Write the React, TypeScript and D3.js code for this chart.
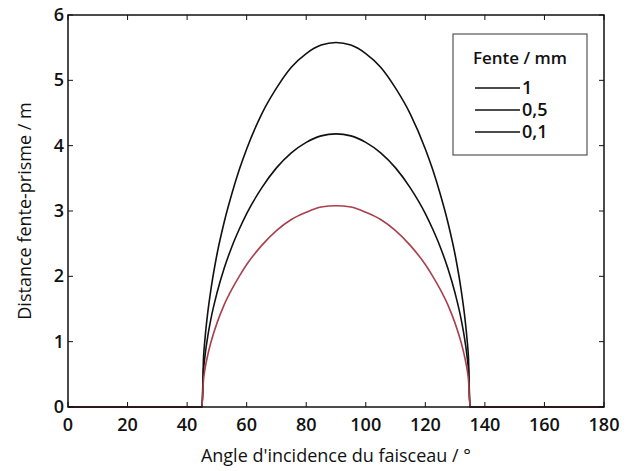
import React from "react";
import * as d3 from "d3";

const angles = [0, 45, 45.5, 46, 47, 48, 50, 52.5, 55, 57.5, 60, 65, 70, 75, 80, 85, 90, 95, 100, 105, 110, 115, 120, 122.5, 125, 127.5, 130, 132, 133, 134, 134.5, 135, 180];
const fente1 = [0, 0, 0.74, 1.04, 1.47, 1.8, 2.33, 2.84, 3.26, 3.63, 3.95, 4.48, 4.88, 5.2, 5.41, 5.54, 5.58, 5.54, 5.41, 5.2, 4.88, 4.48, 3.95, 3.63, 3.26, 2.84, 2.33, 1.8, 1.47, 1.04, 0.74, 0, 0];
const fente05 = [0, 0, 0.55, 0.78, 1.1, 1.35, 1.74, 2.13, 2.45, 2.72, 2.96, 3.35, 3.66, 3.89, 4.05, 4.15, 4.18, 4.15, 4.05, 3.89, 3.66, 3.35, 2.96, 2.72, 2.45, 2.13, 1.74, 1.35, 1.1, 0.78, 0.55, 0, 0];
const fente01 = [0, 0, 0.41, 0.58, 0.81, 0.99, 1.28, 1.57, 1.8, 2.0, 2.18, 2.47, 2.7, 2.87, 2.98, 3.06, 3.08, 3.06, 2.98, 2.87, 2.7, 2.47, 2.18, 2.0, 1.8, 1.57, 1.28, 0.99, 0.81, 0.58, 0.41, 0, 0];
const seriesNames = ["1", "0,5", "0,1"];
const seriesColors = ["#111111", "#111111", "#a8404c"];
const xTicks = [0, 20, 40, 60, 80, 100, 120, 140, 160, 180];
const yTicks = [0, 1, 2, 3, 4, 5, 6];

export default function App() {
  const W = 634, H = 471;
  const left = 68, right = 604, top = 15, bottom = 407;
  const x = d3.scaleLinear().domain([0, 180]).range([left, right]);
  const y = d3.scaleLinear().domain([0, 6]).range([bottom, top]);
  const series = [fente1, fente05, fente01];
  const line = d3.line<number>().x((_, i) => x(angles[i])).y((d) => y(d)).curve(d3.curveMonotoneX);
  const font = "'Open Sans', 'DejaVu Sans', sans-serif";
  const tl = 5;
  return (
    <svg width={W} height={H} style={{ position: "absolute", left: 0, top: 0, background: "#fff" }} fontFamily={font}>
      <rect x={0} y={0} width={W} height={H} fill="#fff" />
      {series.map((s, k) => (
        <path key={k} d={line(s) || ""} fill="none" stroke={seriesColors[k]} strokeWidth={1.6} />
      ))}
      <rect x={left} y={top} width={right - left} height={bottom - top} fill="none" stroke="#111" strokeWidth={1.5} />
      {xTicks.map((t) => (
        <g key={"x" + t}>
          <line x1={x(t)} x2={x(t)} y1={bottom} y2={bottom - tl} stroke="#111" />
          <line x1={x(t)} x2={x(t)} y1={top} y2={top + tl} stroke="#111" />
          <text x={x(t)} y={bottom + 24} textAnchor="middle" fontSize={18} fontWeight={600} fill="#111">{t}</text>
        </g>
      ))}
      {yTicks.map((t) => (
        <g key={"y" + t}>
          <line x1={left} x2={left + tl} y1={y(t)} y2={y(t)} stroke="#111" />
          <line x1={right} x2={right - tl} y1={y(t)} y2={y(t)} stroke="#111" />
          <text x={left - 4} y={y(t) + 6} textAnchor="end" fontSize={18} fontWeight={600} fill="#111">{t}</text>
        </g>
      ))}
      <text x={(left + right) / 2} y={462} textAnchor="middle" fontSize={18} fontWeight={500} fill="#111">Angle d'incidence du faisceau / °</text>
      <text transform={`translate(31,${(top + bottom) / 2}) rotate(-90)`} textAnchor="middle" fontSize={18} fontWeight={500} fill="#111">Distance fente-prisme / m</text>
      <g>
        <rect x={453} y={34} width={134} height={121} fill="#fff" stroke="#555" strokeWidth={1.2} />
        <text x={520} y={64} textAnchor="middle" fontSize={17} fontWeight={600} fill="#111">Fente / mm</text>
        {seriesNames.map((n, k) => (
          <g key={n}>
            <line x1={475} x2={520} y1={88 + k * 22} y2={88 + k * 22} stroke="#111" strokeWidth={1.6} />
            <text x={522} y={94 + k * 22} fontSize={18} fontWeight={600} fill="#111">{n}</text>
          </g>
        ))}
      </g>
    </svg>
  );
}
